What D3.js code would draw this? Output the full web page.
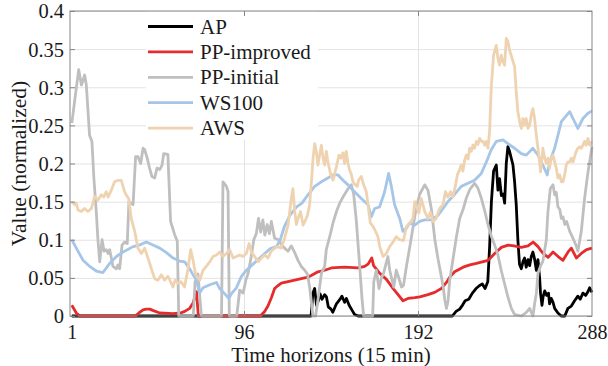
<!DOCTYPE html>
<html>
<head>
<meta charset="utf-8">
<script src="https://cdn.jsdelivr.net/npm/d3@7"></script>
<style>
  body { margin: 0; background: #fff; }
  svg text { font-family: "Liberation Serif", "Times New Roman", serif; fill: #1a1a1a; }
  .grid line { stroke: #e3e3e3; stroke-width: 1; }
  .grid path { display: none; }
  .ticks line { stroke: #858585; }
  .ticks path { display: none; }
  .labels path, .labels line { display: none; }
</style>
</head>
<body>
<div id="chart"></div>
<script>
// series names (legend order = draw order)
const seriesNames = ["AP", "PP-improved", "PP-initial", "WS100", "AWS"];

// [time horizon, normalized value]
const apValues = [[1,0],[133,0],[134,0.03],[135,0.036],[136,0.014],[137,0.02],[138,0.029],[139,0.022],[140.5,0.028],[141.5,0.025],[142.5,0.012],[144,0.009],[145,0.005],[147,0.016],[149,0.022],[150,0.026],[151.5,0.018],[152.5,0.023],[154,0.014],[155.5,0.008],[157,0.002],[159,0],[211,0],[213,0.006],[215,0.009],[216.5,0.014],[218,0.02],[220,0.022],[222,0.03],[224,0.036],[226,0.04],[227.5,0.042],[229,0.036],[230.5,0.045],[231.5,0.09],[232.5,0.15],[233.7,0.19],[235.2,0.198],[236.1,0.165],[237,0.18],[238,0.158],[239,0.16],[239.8,0.148],[240.7,0.2],[241.6,0.222],[242.5,0.216],[244.4,0.198],[245.3,0.176],[246.2,0.146],[247.1,0.1],[248,0.068],[249,0.062],[250,0.072],[250.8,0.076],[251.7,0.064],[252.7,0.074],[253.6,0.066],[254.5,0.078],[255.4,0.084],[256.3,0.075],[257.3,0.06],[258.2,0.074],[259.1,0.05],[259.6,0.03],[260.4,0.014],[261,0.025],[261.9,0.033],[263,0.027],[264,0.03],[264.6,0.016],[265.5,0.023],[266.5,0.018],[267.4,0.01],[269.2,0.004],[271,0],[273,0],[274.7,0.01],[276.6,0.013],[278.4,0.02],[280.2,0.026],[281.5,0.022],[283,0.03],[284.5,0.027],[285.8,0.032],[286.7,0.037],[288,0.031]];

const ppImprovedValues = [[1,0.014],[3.5,0.004],[5.5,0],[36,0],[38,0.004],[40.3,0.008],[42,0.009],[44,0.009],[46,0.007],[49.5,0.004],[56.8,0.003],[61,0.004],[63.3,0.006],[66,0.01],[67.9,0.017],[69,0.026],[69.8,0.032],[70.8,0],[105,0],[107.4,0.006],[109.2,0.013],[111.1,0.024],[112.9,0.036],[114.8,0.04],[116.6,0.043],[120.3,0.045],[124,0.047],[127.6,0.049],[131.3,0.051],[133.1,0.053],[136.8,0.058],[140.5,0.06],[144.2,0.063],[151.5,0.064],[158.9,0.063],[162.6,0.065],[164.4,0.068],[166.5,0.076],[167.5,0.066],[170.9,0.056],[174.6,0.048],[178.3,0.036],[181,0.028],[183.7,0.02],[186.5,0.023],[190.2,0.024],[193,0.025],[197.5,0.028],[201.2,0.031],[204.9,0.036],[207.7,0.044],[209.5,0.051],[212.2,0.058],[216.9,0.064],[220.6,0.067],[224.2,0.069],[230.7,0.073],[234.3,0.082],[238,0.09],[241.7,0.093],[245,0.092],[249,0.09],[252.7,0.092],[255.5,0.097],[258.2,0.091],[261,0.082],[263.8,0.077],[266.5,0.084],[269.3,0.078],[272,0.073],[274.8,0.084],[276.6,0.089],[279.4,0.076],[282.1,0.082],[285,0.087],[288,0.089]];

const ppInitialValues = [[1,0.253],[3,0.29],[4.8,0.323],[6.3,0.303],[8.1,0.316],[9,0.303],[10.8,0.237],[12.1,0.229],[13.2,0.18],[14.5,0.137],[15.4,0.1],[16.4,0.071],[17.7,0.1],[18.8,0.085],[20,0.087],[21,0.082],[21.9,0.087],[22.8,0.076],[23.7,0.065],[25.6,0.062],[26.5,0.067],[27.4,0.062],[28.7,0.093],[30.2,0.097],[31.6,0.095],[32.5,0.15],[34.8,0.146],[36.2,0.209],[37.5,0.209],[39,0.2],[40.3,0.22],[41.2,0.218],[42.6,0.207],[43.9,0.194],[45.2,0.183],[46.7,0.181],[48,0.194],[49.5,0.192],[50.8,0.198],[51.7,0.213],[54,0.212],[55.5,0.124],[57.7,0.107],[59.2,0.098],[60,0],[68,0],[69,0.045],[70.6,0.055],[72.5,0],[83.6,0],[84.4,0.176],[86.3,0.17],[87.2,0.163],[87.9,0],[92,0],[93.6,0.034],[95.5,0.03],[97,0.047],[98.3,0.056],[100,0.078],[101.4,0.1],[102.8,0.108],[104,0.128],[105.2,0.11],[106.4,0.126],[107.5,0.106],[108.8,0.12],[110,0.108],[111.1,0.124],[112.9,0.102],[115,0.1],[116.6,0.094],[118.4,0.089],[120.3,0.085],[122.1,0.092],[124,0.083],[125.8,0.073],[127.6,0.065],[129.5,0.06],[131,0.055],[132.2,0.038],[133.1,0.02],[134,0],[135.5,0],[136.8,0.021],[138.7,0.056],[140.5,0.065],[141.4,0.087],[143.3,0.104],[145.1,0.122],[147,0.137],[148.8,0.148],[150.6,0.156],[153.4,0.167],[155.2,0.172],[156.5,0.16],[158,0.124],[159.8,0.066],[161.1,0.023],[162,0],[167,0],[167.6,0.045],[169,0.06],[170.5,0.036],[171.8,0.05],[173,0.056],[174.5,0.07],[175.4,0.078],[176.4,0.06],[178.6,0.038],[180,0.06],[181,0.053],[182.9,0.038],[184,0.04],[185.6,0.065],[187.5,0.091],[189.3,0.117],[191.1,0.143],[193,0.16],[195.7,0.172],[197.5,0.165],[199.4,0.14],[201.3,0.1],[203.1,0.074],[205,0.05],[205.9,0.038],[206.8,0.021],[207.7,0.01],[208.6,0.02],[209.5,0.047],[211.4,0.076],[213.2,0.104],[215,0.128],[216.9,0.14],[218.7,0.155],[220.6,0.166],[223.2,0.174],[225,0.168],[227,0.154],[228.8,0.138],[230.6,0.12],[232.4,0.105],[234.3,0.093],[236.1,0.08],[237.9,0.06],[239.8,0.042],[241.6,0.025],[243.5,0.01],[245.3,0.002],[249,0],[251.5,0.004],[253.6,0.01],[255.4,0],[256.4,0.017],[257.3,0.03],[258.2,0.056],[259.5,0.065],[260.9,0.072],[262.8,0.1],[263.7,0.137],[265,0.167],[266.5,0.172],[267.4,0.159],[268.3,0.162],[269.2,0.143],[270.2,0.14],[271.1,0.128],[272,0.13],[273,0.12],[274,0.124],[275.7,0.111],[277.5,0.102],[279.3,0.092],[280.2,0.085],[282.1,0.111],[283.9,0.154],[285.8,0.189],[288,0.222]];

const ws100Values = [[1,0.1],[3.5,0.089],[7.2,0.073],[10.9,0.065],[14.5,0.059],[18.2,0.057],[21.9,0.069],[25.6,0.078],[29.3,0.084],[34.8,0.091],[38.4,0.093],[42.1,0.097],[45.8,0.093],[49.5,0.089],[53.2,0.083],[56.9,0.076],[60.5,0.072],[63.3,0.071],[66,0.062],[67.9,0.054],[69.7,0.048],[71.4,0.03],[73.4,0.037],[77.1,0.041],[80.8,0.044],[82.6,0.036],[85.4,0.029],[87.7,0.023],[89,0.029],[91.8,0.037],[94.6,0.052],[97.3,0.06],[101,0.068],[104.7,0.076],[108.4,0.084],[110.2,0.088],[113.9,0.091],[116,0.1],[118.4,0.118],[121.3,0.132],[125,0.143],[128,0.148],[131.3,0.159],[135,0.17],[138.7,0.176],[142.3,0.181],[145.1,0.185],[147.9,0.185],[150.6,0.178],[153.4,0.172],[157,0.163],[160.7,0.154],[164.4,0.146],[166.2,0.13],[168.1,0.141],[170.8,0.143],[173.6,0.163],[175.8,0.187],[177.3,0.17],[179.1,0.146],[181.9,0.128],[183.7,0.111],[185.6,0.115],[187.4,0.122],[190.2,0.119],[192.9,0.124],[195.7,0.126],[199.4,0.126],[203,0.132],[205.8,0.141],[208.5,0.15],[211.3,0.157],[214.1,0.165],[215.9,0.17],[219.6,0.174],[223.2,0.178],[226.9,0.187],[229.7,0.202],[232.4,0.218],[235.2,0.229],[238.9,0.231],[241.6,0.226],[245.3,0.22],[249,0.213],[251.7,0.211],[255.4,0.22],[258.2,0.211],[260.9,0.198],[263.3,0.185],[264.6,0.202],[267.4,0.22],[271.1,0.255],[275.7,0.268],[277.5,0.259],[280.2,0.246],[283,0.259],[285.8,0.266],[288,0.269]];

const awsValues = [[1,0.15],[2.5,0.146],[3.5,0.148],[4.4,0.139],[6.3,0.137],[8,0.141],[9.9,0.137],[11.8,0.141],[13.6,0.157],[15.4,0.152],[17.3,0.159],[18.6,0.156],[20,0.163],[21,0.156],[22.8,0.165],[24.6,0.176],[26.5,0.178],[28.3,0.178],[30.1,0.163],[31.2,0.158],[32.4,0.154],[33.8,0.128],[35.7,0.111],[37.5,0.089],[39.4,0.082],[41.2,0.089],[43,0.076],[44.9,0.062],[46.7,0.049],[48.5,0.047],[50.4,0.054],[52.2,0.047],[54,0.052],[55.5,0.045],[56.8,0.038],[58,0.047],[59.6,0.043],[61.3,0.045],[63.2,0.038],[65.1,0.062],[66.6,0.087],[67.9,0.073],[69.3,0.054],[71.6,0.047],[73.4,0.06],[75.2,0.065],[77.1,0.071],[78.9,0.078],[80.8,0.08],[82.6,0.084],[84.4,0.078],[86.3,0.082],[88.1,0.087],[90,0.076],[91.8,0.078],[93.6,0.08],[95.5,0.078],[97.3,0.082],[98.8,0.095],[100.1,0.084],[101.9,0.078],[103.8,0.071],[105.6,0.076],[107.4,0.08],[109.2,0.076],[111,0.085],[112.9,0.089],[114.8,0.091],[116.6,0.089],[118.4,0.102],[120.3,0.119],[122.1,0.154],[123,0.167],[124,0.137],[124.9,0.12],[125.8,0.128],[127.2,0.137],[128.6,0.119],[129.6,0.124],[131,0.132],[132.2,0.146],[133.2,0.176],[134.1,0.207],[135,0.226],[135.9,0.216],[136.8,0.198],[137.7,0.211],[138.7,0.224],[139.6,0.207],[140.5,0.198],[141.4,0.216],[142.3,0.202],[143.3,0.191],[144.2,0.183],[145.1,0.178],[147,0.196],[148.4,0.211],[149.5,0.207],[150.6,0.214],[151.5,0.2],[152.4,0.216],[153.4,0.2],[154.3,0.191],[155.2,0.186],[156.1,0.176],[157.4,0.172],[158.5,0.17],[159.2,0.178],[160.7,0.183],[162,0.172],[163.5,0.163],[164.4,0.146],[165.7,0.122],[167,0.118],[168.2,0.113],[169.9,0.104],[170.9,0.091],[172.7,0.078],[174.5,0.082],[176.4,0.091],[178.2,0.097],[180,0.104],[182,0.1],[184,0.099],[185.6,0.117],[187.5,0.122],[189.2,0.128],[190.2,0.15],[191.6,0.141],[192.5,0.135],[193.8,0.154],[195.7,0.137],[197.5,0.128],[198.8,0.136],[200.3,0.124],[202,0.128],[203.9,0.141],[205.8,0.146],[207.1,0.163],[208.5,0.156],[210,0.163],[211.2,0.156],[212.6,0.17],[213.7,0.185],[215,0.192],[215.9,0.198],[216.8,0.19],[217.7,0.204],[218.6,0.211],[219.6,0.206],[220.5,0.22],[221.4,0.216],[222.3,0.224],[223.2,0.22],[224.2,0.229],[225.1,0.225],[226,0.233],[227,0.229],[228,0.229],[228.8,0.224],[229.7,0.229],[230.6,0.22],[231.5,0.242],[232.4,0.299],[233.7,0.342],[235.2,0.355],[236.1,0.338],[237,0.329],[237.9,0.342],[238.8,0.334],[239.8,0.329],[240.7,0.364],[241.6,0.36],[242.5,0.349],[243.4,0.342],[244.4,0.334],[245.3,0.327],[246.2,0.294],[247.1,0.268],[248.1,0.255],[249,0.246],[249.9,0.259],[250.8,0.25],[251.7,0.259],[252.7,0.246],[253.6,0.25],[254.5,0.264],[255.4,0.272],[256.3,0.259],[257.3,0.237],[258.2,0.22],[259.1,0.202],[259.6,0.189],[260.4,0.207],[260.9,0.22],[261.9,0.207],[262.8,0.2],[263.7,0.207],[264.6,0.194],[265.5,0.207],[266.5,0.211],[267.4,0.202],[268.3,0.194],[269.2,0.181],[270.2,0.185],[271.1,0.176],[272,0.176],[272.9,0.185],[273.8,0.198],[274.7,0.202],[275.7,0.202],[276.6,0.207],[277.5,0.202],[278.4,0.209],[279.3,0.216],[280.2,0.22],[281.2,0.222],[282.1,0.22],[283,0.224],[283.9,0.229],[284.8,0.224],[285.8,0.233],[286.7,0.224],[288,0.229]];

// axis ticks
const xTicks = [1, 96, 192, 288];
const xGridTicks = [96, 192];
const yTicks = [0, 0.05, 0.1, 0.15, 0.2, 0.25, 0.3, 0.35, 0.4];

// styles
const seriesColors = ["#000000", "#e52b2b", "#bfbfbf", "#a5c5e9", "#efd3b0"];

const allSeries = [apValues, ppImprovedValues, ppInitialValues, ws100Values, awsValues];

const W = 608, H = 366;
const margin = {top: 11, right: 16, bottom: 50, left: 70};
const width = W - margin.left - margin.right;
const height = H - margin.top - margin.bottom;

const svg = d3.select("#chart").append("svg")
    .attr("width", W)
    .attr("height", H);

const g = svg.append("g")
    .attr("transform", "translate(" + margin.left + "," + margin.top + ")");

// scales
const x = d3.scaleLinear().domain([0, 288]).range([0, width]);
const y = d3.scaleLinear().domain([0, 0.4]).range([height, 0]);

// grid lines
g.append("g")
    .attr("class", "grid")
    .call(d3.axisLeft(y).tickValues(yTicks).tickSize(-width).tickFormat(""));

g.append("g")
    .attr("class", "grid")
    .attr("transform", "translate(0," + height + ")")
    .call(d3.axisBottom(x).tickValues(xGridTicks).tickSize(-height).tickFormat(""));

// lines
const line = d3.line()
    .x(d => x(d[0]))
    .y(d => y(d[1]));

g.selectAll(".series")
    .data(allSeries)
    .enter().append("path")
    .attr("class", "series")
    .attr("d", line)
    .attr("fill", "none")
    .attr("stroke", (d, i) => seriesColors[i])
    .attr("stroke-width", 2.8)
    .attr("stroke-linejoin", "round");

// legend (white box, no border)
const legend = g.append("g").attr("transform", "translate(76,0)");
legend.append("rect")
    .attr("x", 0)
    .attr("y", 0.5)
    .attr("width", 172)
    .attr("height", 128)
    .attr("fill", "#fff");

seriesNames.forEach((name, i) => {
    let row = legend.append("g").attr("transform", "translate(0," + (15.5 + i * 25.4) + ")");
    row.append("line")
        .attr("x1", 2).attr("x2", 47)
        .attr("y1", 0).attr("y2", 0)
        .attr("stroke", seriesColors[i])
        .attr("stroke-width", 2.8);
    row.append("text")
        .attr("x", 54)
        .attr("y", 7)
        .style("font-size", "21px")
        .text(name);
});

// inward ticks on all four sides
g.append("g").attr("class", "ticks")
    .call(d3.axisRight(y).tickValues(yTicks).tickSize(5).tickFormat(""));
g.append("g").attr("class", "ticks")
    .attr("transform", "translate(" + width + ",0)")
    .call(d3.axisLeft(y).tickValues(yTicks).tickSize(5).tickFormat(""));
g.append("g").attr("class", "ticks")
    .call(d3.axisBottom(x).tickValues(xGridTicks).tickSize(5).tickFormat(""));
g.append("g").attr("class", "ticks")
    .attr("transform", "translate(0," + height + ")")
    .call(d3.axisTop(x).tickValues(xGridTicks).tickSize(5).tickFormat(""));

// box
g.append("rect")
    .attr("x", 0).attr("y", 0)
    .attr("width", width).attr("height", height)
    .attr("fill", "none")
    .attr("stroke", "#858585")
    .attr("stroke-width", 1);

// tick labels
const yLab = g.append("g").attr("class", "labels")
    .call(d3.axisLeft(y).tickValues(yTicks).tickSize(0).tickPadding(6)
        .tickFormat(d => d === 0 ? "0" : String(+d.toFixed(2))));
yLab.selectAll("text").style("font-size", "20.5px").attr("dy", "0.34em");

const xLab = g.append("g").attr("class", "labels")
    .attr("transform", "translate(0," + height + ")")
    .call(d3.axisBottom(x).tickValues(xTicks).tickSize(0).tickPadding(9));
xLab.selectAll("text").style("font-size", "20px");

// axis titles
g.append("text")
    .attr("x", width / 2)
    .attr("y", height + 46)
    .attr("text-anchor", "middle")
    .style("font-size", "21px")
    .text("Time horizons (15 min)");

g.append("text")
    .attr("transform", "rotate(-90)")
    .attr("x", -height / 2)
    .attr("y", -44)
    .attr("text-anchor", "middle")
    .style("font-size", "21.5px")
    .text("Value (normalized)");
</script>
</body>
</html>
